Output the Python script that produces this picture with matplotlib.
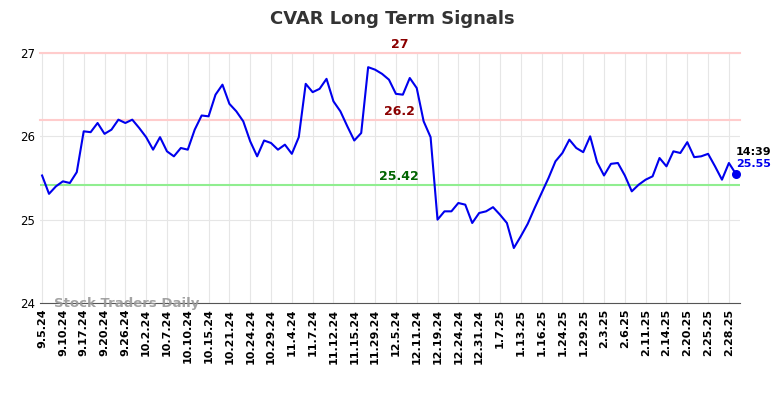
import matplotlib
matplotlib.use("Agg")
import matplotlib.pyplot as plt

# daily signal values (one per trading day)
values = [
    25.53, 25.31, 25.40, 25.46, 25.44, 25.57, 26.06, 26.05, 26.16, 26.03,
    26.08, 26.20, 26.16, 26.20, 26.10, 25.99, 25.84, 25.99, 25.82, 25.76,
    25.86, 25.84, 26.08, 26.25, 26.24, 26.50, 26.62, 26.39, 26.30, 26.18,
    25.94, 25.76, 25.95, 25.92, 25.84, 25.90, 25.79, 25.99, 26.63, 26.53,
    26.57, 26.69, 26.42, 26.30, 26.12, 25.95, 26.04, 26.83, 26.80, 26.75,
    26.68, 26.51, 26.50, 26.70, 26.58, 26.18, 25.99, 25.00, 25.10, 25.10,
    25.20, 25.18, 24.96, 25.08, 25.10, 25.15, 25.06, 24.96, 24.66, 24.80,
    24.95, 25.14, 25.32, 25.50, 25.70, 25.80, 25.96, 25.86, 25.81, 26.00,
    25.69, 25.53, 25.67, 25.68, 25.53, 25.34, 25.42, 25.48, 25.52, 25.74,
    25.64, 25.82, 25.80, 25.93, 25.75, 25.76, 25.79, 25.64, 25.48, 25.68,
    25.55,
]

tick_labels = [
    "9.5.24", "9.10.24", "9.17.24", "9.20.24", "9.26.24", "10.2.24", "10.7.24",
    "10.10.24", "10.15.24", "10.21.24", "10.24.24", "10.29.24", "11.4.24",
    "11.7.24", "11.12.24", "11.15.24", "11.29.24", "12.5.24", "12.11.24",
    "12.19.24", "12.24.24", "12.31.24", "1.7.25", "1.13.25", "1.16.25",
    "1.24.25", "1.29.25", "2.3.25", "2.6.25", "2.11.25", "2.14.25",
    "2.20.25", "2.25.25", "2.28.25",
]
tick_step = 3

upper_levels = [27, 26.2]
lower_level = 25.42
last_time = "14:39"

fig = plt.figure(figsize=(7.84, 3.98), dpi=100)
ax = fig.add_axes([40 / 784, 1 - 303 / 398, 700 / 784, 250 / 398])

x = list(range(len(values)))
ax.plot(x, values, color="#0000ee", lw=1.5, zorder=3)
ax.scatter([x[-1]], [values[-1]], color="#0000ee", s=30, zorder=4)

label_x = 51.5
for lv in upper_levels:
    ax.axhline(lv, color="#ffcccc", lw=1.5, zorder=2, clip_on=False)
    ax.text(label_x, lv + 0.02, f"{lv:g}", color="#8b0000", fontsize=9,
            fontweight="bold", ha="center", va="bottom")
ax.axhline(lower_level, color="#90ee90", lw=1.5, zorder=2)
ax.text(label_x, lower_level + 0.02, f"{lower_level:g}", color="#006400",
        fontsize=9, fontweight="bold", ha="center", va="bottom")

ax.text(x[-1], values[-1] + 0.2, last_time, fontsize=8, fontweight="bold",
        color="black", ha="left", va="bottom")
ax.text(x[-1], values[-1] + 0.06, f"{values[-1]:.2f}", fontsize=8,
        fontweight="bold", color="#0000ee", ha="left", va="bottom")

ax.text(1.7, 24.0, "Stock Traders Daily", fontsize=9.5, fontweight="bold",
        color="#999999", alpha=0.9, ha="left", va="center", zorder=5)

ax.set_xlim(-0.3, 100.6)
ax.set_ylim(24, 27)
ax.set_yticks([24, 25, 26, 27])
ax.set_xticks(range(0, len(tick_labels) * tick_step, tick_step))
ax.set_xticklabels(tick_labels, rotation=90, fontsize=8, fontweight="bold")
ax.tick_params(axis="both", length=0, labelsize=8.5)
ax.tick_params(axis="x", labelsize=8, pad=4)
ax.grid(True, color="#e6e6e6", lw=0.8, zorder=0)
for s in ["top", "right", "left"]:
    ax.spines[s].set_visible(False)
ax.spines["bottom"].set_color("#555555")

fig.suptitle("CVAR Long Term Signals", fontsize=13, fontweight="bold",
             color="#333333", y=0.975)

fig.savefig("out.png", dpi=100)
